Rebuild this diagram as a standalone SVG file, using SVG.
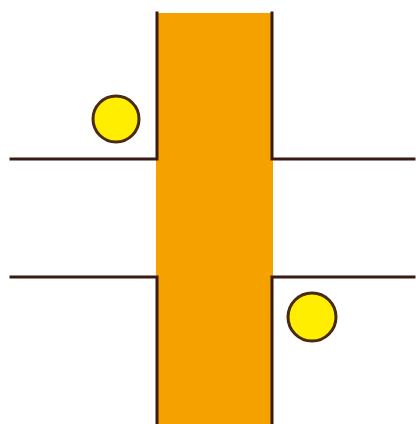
<svg xmlns="http://www.w3.org/2000/svg" width="416" height="424" viewBox="0 0 416 424">
<style>
.ln{stroke:#3a1a14;stroke-width:3;fill:none;stroke-linecap:square}
.ball{fill:#ffee00;stroke:#4a2a10;stroke-width:3}
</style>
<rect width="416" height="424" fill="#ffffff"/>
<g id="channel">
<rect x="156" y="13" width="117" height="411" fill="#f5a200"/>
</g>
<g id="membrane">
<path class="ln" d="M11 159 H157 V13"/>
<path class="ln" d="M272 13 V159 H414"/>
<path class="ln" d="M11 277 H157 V424"/>
<path class="ln" d="M272 424 V277 H414"/>
</g>
<g id="ion1"><circle class="ball" cx="116" cy="119" r="23"/></g>
<g id="ion2"><circle class="ball" cx="312" cy="317" r="24"/></g>
</svg>
